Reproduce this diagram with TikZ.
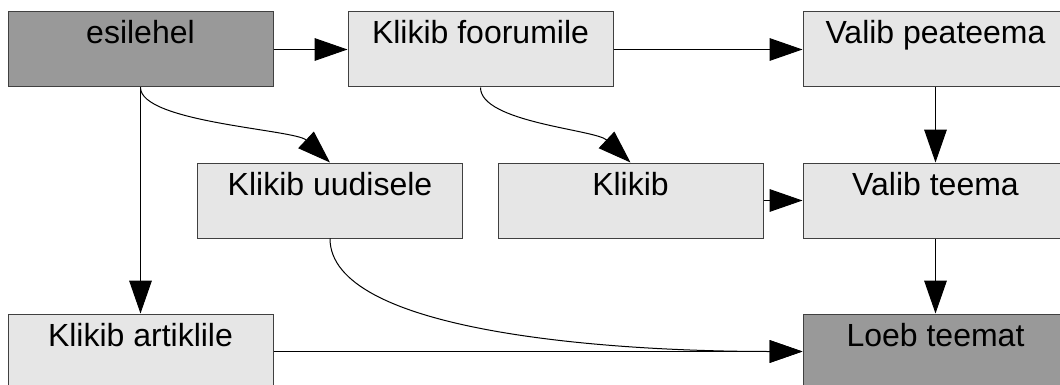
\documentclass[tikz,border=0pt]{standalone}
\usepackage{fontspec}
\setmainfont{Liberation Sans}
\usepackage{xcolor}
\usetikzlibrary{arrows.meta}

\begin{document}
\begin{tikzpicture}[x=0.75pt,y=0.75pt,yscale=-1,xscale=1,
  box/.style={draw={rgb, 255:red, 64; green, 64; blue, 64}, line width=0.75, fill={rgb, 255:red, 230; green, 230; blue, 230}, inner sep=0pt, minimum width=198.75pt, text height=24pt, text depth=32.25pt, font=\fontsize{24}{28}\selectfont},
  darkbox/.style={box, fill={rgb, 255:red, 153; green, 153; blue, 153}},
  arr/.style={line width=0.75, -{Triangle[length=24.75pt,width=17pt]}}]

\path [use as bounding box, clip] (0,0) rectangle (1060,385);


\node [darkbox] (esilehel) at (140.5,49.5) {esilehel};

\node [box] (foorumile) at (480.5,49.5) {Klikib foorumile};

\node [box] (peateema) at (935.5,49.5) {Valib peateema};

\node [box] (uudisele) at (330,200.5) {Klikib uudisele};

\node [box] (klikib) at (630.5,200.5) {Klikib};

\node [box] (teema) at (935.5,200.5) {Valib teema};

\node [box] (artiklile) at (140.5,351.5) {Klikib artiklile};

\node [darkbox] (loeb) at (935.5,351.5) {Loeb teemat};


\draw [arr] (esilehel) -- (foorumile);

\draw [arr] (foorumile) -- (peateema);

\draw [arr] (peateema) -- (teema);

\draw [arr] (klikib) -- (teema);

\draw [arr] (teema) -- (loeb);

\draw [arr] (esilehel) -- (artiklile);

\draw [arr] (artiklile) -- (loeb);


\draw [arr] (esilehel.south) .. controls +(0,35) and +(-35,-33) .. (uudisele.north);

\draw [arr] (foorumile.south) .. controls +(0,35) and +(-35,-33) .. (klikib.north);

\draw [arr] (uudisele.south) .. controls +(0,92) and +(-203,0) .. (loeb.west);


\end{tikzpicture}
\end{document}
